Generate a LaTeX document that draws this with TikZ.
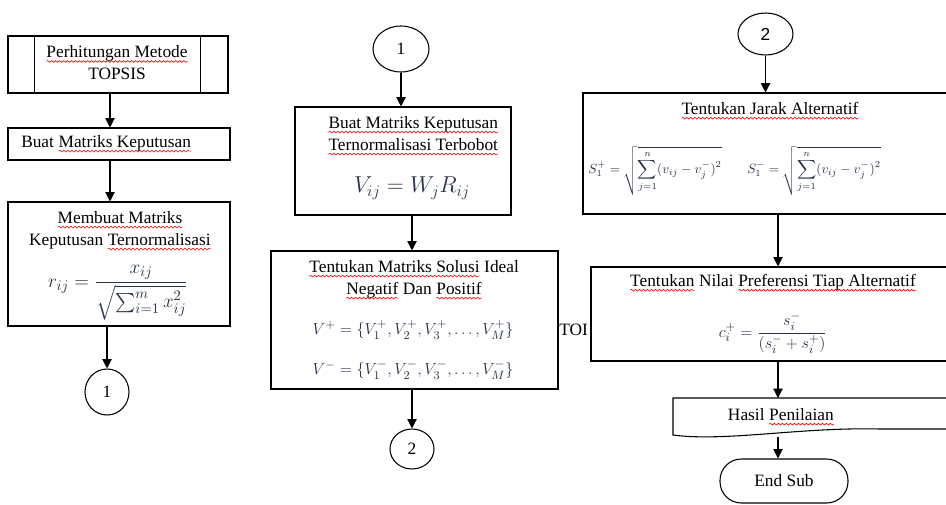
\documentclass[tikz,border=0pt]{standalone}
\usepackage{amsmath}
\usepackage{fontspec}
\setmainfont{Liberation Serif}
\newfontfamily\arialf{Liberation Sans}
\usetikzlibrary{shapes.geometric,arrows.meta,calc,decorations.pathmorphing}
\newcommand\sq[1]{\tikz[baseline=(sqw.base),x=1pt,y=1pt]{\node[inner sep=0pt,outer sep=0pt,anchor=base,minimum width=0pt,minimum height=0pt,draw=none,fill=none,text=black](sqw){#1};\draw[red,line width=0.45pt,decorate,decoration={snake,amplitude=0.7pt,segment length=3pt}] ([yshift=-2.6pt]sqw.base west) -- ([yshift=-2.6pt]sqw.base east);}}
\definecolor{fcol}{RGB}{40,50,72}
\tikzset{
  ln/.style={line width=0.8pt},
  box/.style={draw, line width=0.8pt, rectangle, inner sep=0pt},
  sz/.style 2 args={minimum width=#1*0.75pt, minimum height=#2*0.75pt},
  txt/.style={font=\fontsize{13}{16.5}\selectfont, inner sep=0pt, align=center},
  conn/.style={draw, ellipse, line width=0.8pt, inner sep=0pt, font=\fontsize{13}{16}\selectfont},
  arr/.style={-{Triangle[length=7pt,width=7pt]}, line width=0.8pt},
  fml/.style={text=fcol, inner sep=0pt, font=\fontsize{13}{16}\selectfont}
}
\begin{document}
\begin{tikzpicture}[x=0.75pt,y=-0.75pt]
\clip (0,0) rectangle (946,504);
\fill[white] (0,0) rectangle (946,504);
% axes for connectors
\coordinate (axL) at (110,0);
\coordinate (axM) at (412,0);
\coordinate (axR) at (778,0);

% ---------- left column ----------
\node[box, sz={220}{57}] (A) at (118,64.5) {};
\draw[ln] ([xshift=27*0.75pt]A.north west) -- ([xshift=27*0.75pt]A.south west);
\draw[ln] ([xshift=-28*0.75pt]A.north east) -- ([xshift=-28*0.75pt]A.south east);
\node[txt] (At) at (117,63) {\sq{Perhitungan Metode}\\TOPSIS};

\node[box, sz={222}{32}] (B) at (119,144) {};
\node[txt, anchor=west] (Bt) at (21,144) {Buat \sq{Matriks Keputusan}};

\node[box, sz={222}{124}] (C) at (119,264) {};
\node[txt] (Ct) at (120,231) {\sq{Membuat Matriks}\\Keputusan \sq{Ternormalisasi}};
\node[fml, font=\fontsize{15}{18}\selectfont] (Cf) at (118,293) {$r_{ij}=\dfrac{x_{ij}}{\sqrt{\sum_{i=1}^{m}x_{ij}^{2}}}$};

\node[conn, sz={44}{46}] (L1) at (107,392) {1};

\draw[arr] (A.south -| axL) -- (B.north -| axL);
\draw[arr] (B.south -| axL) -- (C.north -| axL);
\draw[arr] (C.south -| L1) -- (L1.north);

% ---------- middle column ----------
\node[conn, sz={56}{46}] (M1) at (401,49) {1};
\node[box, sz={216}{108}] (D) at (403,161) {};
\node[txt, align=left, anchor=west] (Dt) at (328,136) {\sq{Buat Matriks Keputusan}\\\sq{Ternormalisasi Terbobot}};
\node[fml, font=\fontsize{17}{20}\selectfont] (Df) at (412,188) {$V_{ij}=W_{j}R_{ij}$};

\node[box, sz={287}{138}] (E) at (414.5,320) {};
\node[txt] (Et) at (414,280) {\sq{Tentukan Matriks Solusi} Ideal\\\sq{Negatif} Dan \sq{Positif}};
\node[fml, font=\fontsize{12.3}{15}\selectfont] (Ep) at (413,330) {$V^{+}=\{V_1^{+},V_2^{+},V_3^{+},\ldots,V_M^{+}\}$};
\node[fml, font=\fontsize{12.3}{15}\selectfont] (Em) at (413,370) {$V^{-}=\{V_1^{-},V_2^{-},V_3^{-},\ldots,V_M^{-}\}$};

\node[conn, sz={44}{40}] (M2) at (412,449) {2};

\draw[arr] (M1.south) -- (M1.south |- D.north);
\draw[arr] (D.south -| axM) -- (E.north -| axM);
\draw[arr] (E.south -| axM) -- (M2.north);

\node[txt, anchor=west] (TOI) at (559,330) {TOI};

% ---------- right column ----------
\node[conn, sz={55}{42}, font=\arialf\fontsize{13}{16}\selectfont] (R2) at (765.5,34) {2};

\node[box, fill=white, sz={377}{121}] (F) at (771.5,153.5) {};
\node[txt] (Ft) at (770,111) {\sq{Tentukan Jarak Alternatif}};
\node[fml, font=\fontsize{9.8}{12}\selectfont] (Fp) at (655,171) {$S_1^{+}=\sqrt{\displaystyle\sum_{j=1}^{n}(v_{ij}-v_j^{-})^{2}}$};
\node[fml, font=\fontsize{9.8}{12}\selectfont] (Fm) at (814,171) {$S_1^{-}=\sqrt{\displaystyle\sum_{j=1}^{n}(v_{ij}-v_j^{-})^{2}}$};

\node[box, fill=white, sz={364}{94}] (G) at (773,314) {};
\node[txt] (Gt) at (773,283) {\sq{Tentukan} Nilai \sq{Preferensi Tiap Alternatif}};
\node[fml] (Gf) at (773,333) {$c_i^{+}=\dfrac{s_i^{-}}{(s_i^{-}+s_i^{+})}$};

% document shape
\draw[ln, fill=white] (673,398) -- (960,398) -- (960,429) -- (880,429)
  .. controls (800,427) and (725,442) .. (673,435) -- cycle;
\node[txt] (H) at (781,417) {Hasil \sq{Penilaian}};
\coordinate (Htop) at (778,398);
\coordinate (Hbot) at (778,437);

\node[box, rounded corners=16pt, sz={128}{44}, txt] (End) at (784,481) {End Sub};

\draw[arr] (R2.south) -- (R2.south |- F.north);
\draw[arr] (F.south -| axR) -- (G.north -| axR);
\draw[arr] (G.south -| axR) -- (Htop);
\draw[arr] (Hbot) -- (End.north -| axR);
\end{tikzpicture}
\end{document}
